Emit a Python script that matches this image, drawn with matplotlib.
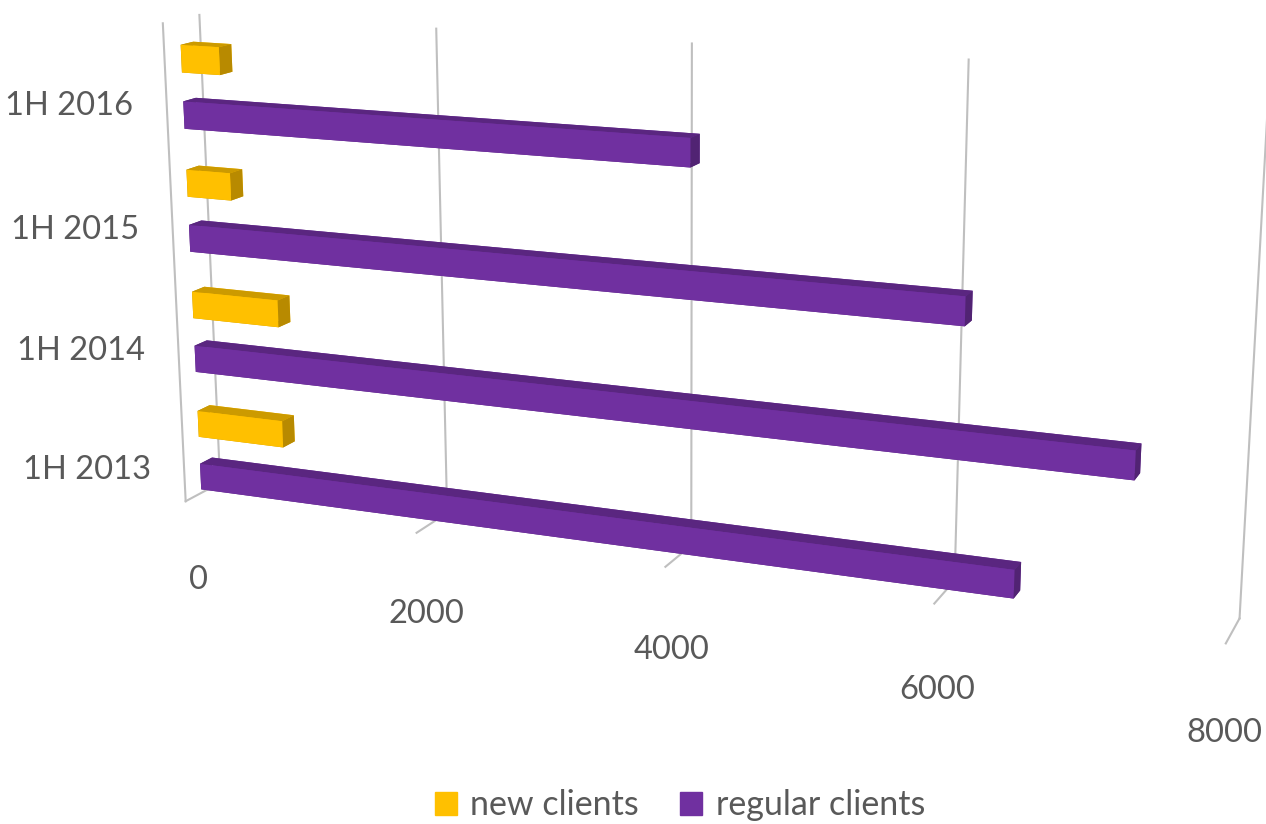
import numpy as np
import matplotlib.pyplot as plt
from matplotlib.patches import Patch

plt.rcParams['font.family'] = ['Lato', 'DejaVu Sans']

# data (bottom -> top)
categories = ['1H 2013', '1H 2014', '1H 2015', '1H 2016']
new_clients = [750, 750, 380, 330]
regular_clients = [6500, 7300, 6100, 4100]
value_ticks = [0, 2000, 4000, 6000, 8000]

YELLOW = '#FFC000'
PURPLE = '#7030A0'
TXT = '#595959'
GRID = '#BFBFBF'
ZTOP = 3.9


def shade(hexcol, f):
    c = np.array(plt.matplotlib.colors.to_rgb(hexcol))
    return tuple(c * f)


fig = plt.figure(figsize=(12.66, 8.24), dpi=100)
H = 1.47
W = H * 824 / 1266
ax = fig.add_axes([0.523 - W / 2, 0.606 - H / 2, W, H], projection='3d',
                  computed_zorder=False)
ax.set_proj_type('persp', focal_length=0.4)
ax.view_init(elev=14, azim=-68)
ax.set_xlim(0, 8000)
ax.set_ylim(0, 1)
ax.set_zlim(0, ZTOP)
ax.set_box_aspect((4, 0.25, 1.85))
ax.set_axis_off()

# walls: back-wall gridlines, floor lines, left edge
for v in value_ticks:
    ax.plot([v, v], [1, 1], [0, ZTOP], color=GRID, lw=1.5, zorder=1, clip_on=False)
    ax.plot([v, v], [0, 1], [0, 0], color=GRID, lw=1.5, zorder=1, clip_on=False)
    ax.text(v, 0.25, -0.72, str(v), ha='center', va='center',
            fontsize=23.5, color=TXT)
ax.plot([0, 0], [0, 0], [0, ZTOP], color=GRID, lw=1.5, zorder=1, clip_on=False)

# bars
centers = np.arange(len(categories)) + 0.45
n = len(categories)
xs = np.zeros(2 * n)
ys = np.full(2 * n, 0.45)
zs = np.concatenate([centers + 0.03, centers - 0.42])
dx = np.array(new_clients + regular_clients, dtype=float)
dy = np.full(2 * n, 0.35)
dz = np.full(2 * n, 0.22)

face_cols = []
for base in [YELLOW] * n + [PURPLE] * n:
    # -z, +z, -y, +y, -x, +x
    face_cols += [shade(base, 0.8), shade(base, 0.8), base, base,
                  shade(base, 0.75), shade(base, 0.72)]
bars = ax.bar3d(xs, ys, zs, dx, dy, dz, color=face_cols, shade=False, zorder=2)
bars.set_clip_on(False)

for c, lab in zip(centers, categories):
    ax.text(-300, 0, c - 0.22, lab, ha='right', va='center',
            fontsize=23.5, color=TXT)

handles = [Patch(color=YELLOW, label='new clients'),
           Patch(color=PURPLE, label='regular clients')]
fig.legend(handles=handles, loc='lower center', ncol=2, frameon=False,
           fontsize=24.5, labelcolor=TXT, handlelength=0.65, handleheight=0.65,
           handletextpad=0.4, columnspacing=1.2, bbox_to_anchor=(0.537, -0.034))

fig.savefig('out.png', dpi=100)
